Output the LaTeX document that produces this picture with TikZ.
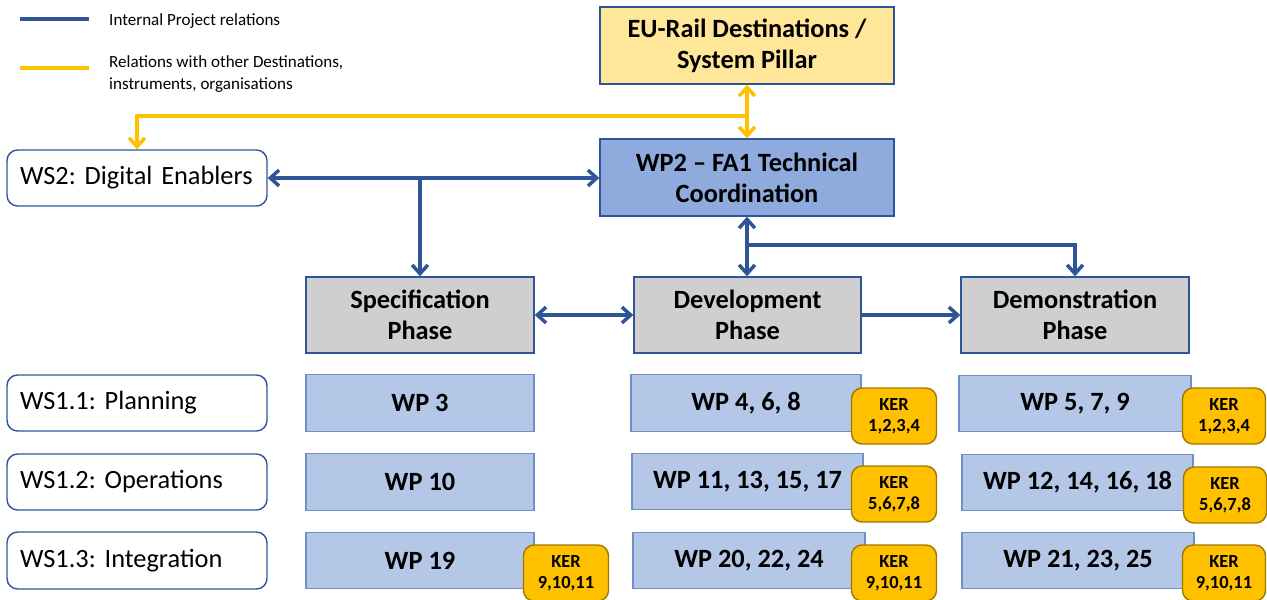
\documentclass[tikz,border=0pt]{standalone}
\usepackage{fontspec}
\setmainfont{Carlito}
\frenchspacing
\usetikzlibrary{arrows.meta}
\definecolor{lblue}{HTML}{2F5597}
\definecolor{lyel}{HTML}{FFC000}
\definecolor{eufill}{HTML}{FFE699}
\definecolor{wp2fill}{HTML}{8FAADC}
\definecolor{wpfill}{HTML}{B4C7E7}
\definecolor{wpborder}{HTML}{6F8FC9}
\definecolor{phfill}{HTML}{D0CECE}
\definecolor{kerborder}{HTML}{A07800}
\tikzset{
  topbox/.style={draw=lblue, line width=0.8pt, minimum width=5.88cm, minimum height=1.54cm, align=center, font=\bfseries\fontsize{15}{17.6}\selectfont},
  wsbox/.style={draw=lblue, line width=0.8pt, fill=white, rounded corners=6pt, minimum width=5.2cm, minimum height=1.12cm, inner xsep=0.26cm, text width=4.68cm, align=left, font=\fontsize{15}{17.6}\selectfont},
  phbox/.style={draw=lblue, line width=0.8pt, fill=phfill, minimum width=4.56cm, minimum height=1.52cm, align=center, font=\bfseries\fontsize{15}{17.6}\selectfont},
  wpbox/.style={draw=wpborder, line width=0.8pt, fill=wpfill, minimum height=1.13cm, align=center, font=\bfseries\fontsize{15}{17.6}\selectfont},
  kerbox/.style={draw=kerborder, line width=0.8pt, fill=lyel, rounded corners=6pt, minimum width=1.7cm, minimum height=1.12cm, align=center, inner sep=1pt, font=\bfseries\fontsize{10.5}{12}\selectfont},
  barrow/.style={draw=lblue, line width=2pt, >={Straight Barb[length=5pt,width=9pt]}},
  yarrow/.style={draw=lyel, line width=2pt, >={Straight Barb[length=5pt,width=9pt]}},
  legtext/.style={anchor=west, align=left, font=\fontsize{9.7}{12.5}\selectfont},
}
\begin{document}
\begin{tikzpicture}[x=0.02cm,y=-0.02cm]
\useasboundingbox (0,0) rectangle (1267,599);
% legend
\coordinate (lb1) at (20,19); \coordinate (lb2) at (89,19);
\coordinate (ly1) at (20,68); \coordinate (ly2) at (89,68);
\draw[lblue, line width=2.3pt] (lb1) -- (lb2);
\draw[lyel, line width=2.3pt] (ly1) -- (ly2);
\node[legtext] (lt1) at (103,21) {Internal Project relations};
\node[legtext] (lt2) at (103,74) {Relations with other Destinations,\\instruments, organisations};
% top boxes
\node[topbox, fill=eufill] (eu) at (747,45.5) {EU-Rail Destinations /\\System Pillar};
\node[topbox, fill=wp2fill] (wp2) at (747,177.5) {WP2 -- FA1 Technical\\Coordination};
\node[wsbox] (ws2) at (137,178) {WS2: Digital Enablers};
% phases
\node[phbox] (spec) at (420,315) {Specification\\Phase};
\node[phbox, minimum width=4.54cm] (dev) at (747.5,315) {Development\\Phase};
\node[phbox] (demo) at (1075,315) {Demonstration\\Phase};
% WS rows
\node[wsbox] (ws11) at (137,403) {WS1.1: Planning};
\node[wsbox] (ws12) at (137,482) {WS1.2: Operations};
\node[wsbox, minimum height=1.14cm] (ws13) at (137,560.5) {WS1.3: Integration};
% WP boxes
\node[wpbox, minimum width=4.56cm] (wp3) at (420,403) {WP 3};
\node[wpbox, minimum width=4.6cm] (wp4) at (746,403) {WP 4, 6, 8};
\node[wpbox, minimum width=4.64cm] (wp5) at (1075,403.5) {WP 5, 7, 9};
\node[wpbox, minimum width=4.56cm] (wp10) at (420,482) {WP 10};
\node[wpbox, minimum width=4.62cm] (wp11) at (747.5,481.5) {WP 11, 13, 15, 17};
\node[wpbox, minimum width=4.62cm] (wp12) at (1077.5,482.5) {WP 12, 14, 16, 18};
\node[wpbox, minimum width=4.56cm] (wp19) at (420,560.5) {WP 19};
\node[wpbox, minimum width=4.64cm] (wp20) at (749,560.5) {WP 20, 22, 24};
\node[wpbox, minimum width=4.64cm] (wp21) at (1078,560.5) {WP 21, 23, 25};
% KER boxes
\node[kerbox] (k1a) at (894,416) {KER\\1,2,3,4};
\node[kerbox, minimum width=1.66cm] (k1b) at (1224,416) {KER\\1,2,3,4};
\node[kerbox] (k2a) at (894,494) {KER\\5,6,7,8};
\node[kerbox, minimum width=1.66cm] (k2b) at (1225,495) {KER\\5,6,7,8};
\node[kerbox] (k3a) at (566,573) {KER\\9,10,11};
\node[kerbox] (k3b) at (894,573) {KER\\9,10,11};
\node[kerbox, minimum width=1.66cm] (k3c) at (1224,573) {KER\\9,10,11};
% yellow connectors
\coordinate (yj) at (747,116);
\draw[yarrow, <->] (eu.south) -- (wp2.north);
\draw[yarrow, ->] (yj) -| (ws2.north);
% blue connectors
\draw[barrow, <->] (ws2.east) -- (wp2.west |- ws2.east);
\coordinate (bj1) at (spec.north |- ws2.east);
\draw[barrow, ->] (bj1) -- (spec.north);
\draw[barrow, <->] (wp2.south) -- (wp2.south |- dev.north);
\coordinate (bj2) at (747,245);
\draw[barrow, ->] (bj2) -| (demo.north);
\draw[barrow, <->] (spec.east) -- (dev.west);
\draw[barrow, ->] (dev.east) -- (demo.west);
\end{tikzpicture}
\end{document}
